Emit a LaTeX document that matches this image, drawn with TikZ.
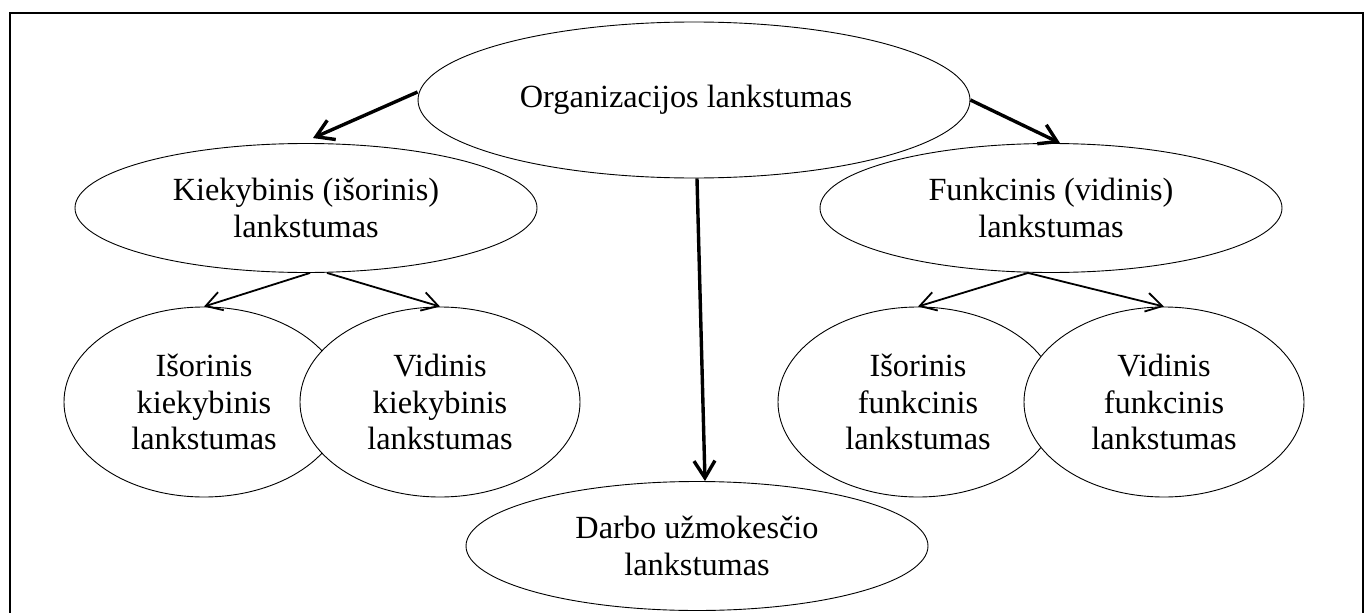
\documentclass[tikz,border=0pt]{standalone}
\usepackage{fontspec}
\setmainfont{Liberation Serif}
\usetikzlibrary{shapes.geometric,arrows.meta}
\begin{document}
\begin{tikzpicture}[x=1pt,y=-1pt,
  oval/.style 2 args={ellipse, draw, line width=0.9pt, fill=white,
    inner sep=0pt, align=center, minimum width=#1, minimum height=#2,
    font=\fontsize{32.3}{36.7}\selectfont},
  bigoval/.style={oval={462pt}{129pt}},
  smalloval/.style={oval={280pt}{190pt}},
  thickarrow/.style={line width=3.4pt, -{Straight Barb[length=17pt,width=21pt]}},
  thinarrow/.style={line width=1.8pt, -{Straight Barb[length=16pt,width=19pt]}},
  frameline/.style={line width=2pt}]
  \useasboundingbox (0,0) rectangle (1369,613);

  % open frame round the chart
  \draw[frameline] (10,620) -- (10,13) -- (1363,13) -- (1363,620);

  % top level
  \node[oval={552pt}{156pt}] (org) at (694,100) {\hspace*{-16pt}Organizacijos lankstumas};

  % second level
  \node[bigoval] (kiek) at (306,208) {Kiekybinis (išorinis)\\lankstumas};
  \node[bigoval] (funk) at (1051,208) {Funkcinis (vidinis)\\lankstumas};
  \node[bigoval] (darbo) at (697,546) {Darbo užmokesčio\\lankstumas};

  % third level: overlapping pairs, the right one drawn over the left
  \node[smalloval] (ik) at (204,402) {Išorinis\\kiekybinis\\lankstumas};
  \node[smalloval] (vk) at (440,402) {Vidinis\\kiekybinis\\lankstumas};
  \node[smalloval] (if) at (918,402) {Išorinis\\funkcinis\\lankstumas};
  \node[smalloval] (vf) at (1164,402) {Vidinis\\funkcinis\\lankstumas};

  % connectors
  \draw[thickarrow] ([yshift=8pt]org.west) -- ([shift={(7pt,5pt)}]kiek.north);
  \draw[thickarrow] (org.east) -- ([xshift=9pt]funk.north);
  \draw[thickarrow] ([xshift=3pt]org.south) -- ([xshift=8pt]darbo.north);

  \draw[thinarrow] ([xshift=4pt]kiek.south) -- (ik.north);
  \draw[thinarrow] ([xshift=21pt]kiek.south) -- (vk.north);
  \draw[thinarrow] ([xshift=-23pt]funk.south) -- (if.north);
  \draw[thinarrow] ([xshift=-23pt]funk.south) -- (vf.north);
\end{tikzpicture}
\end{document}
